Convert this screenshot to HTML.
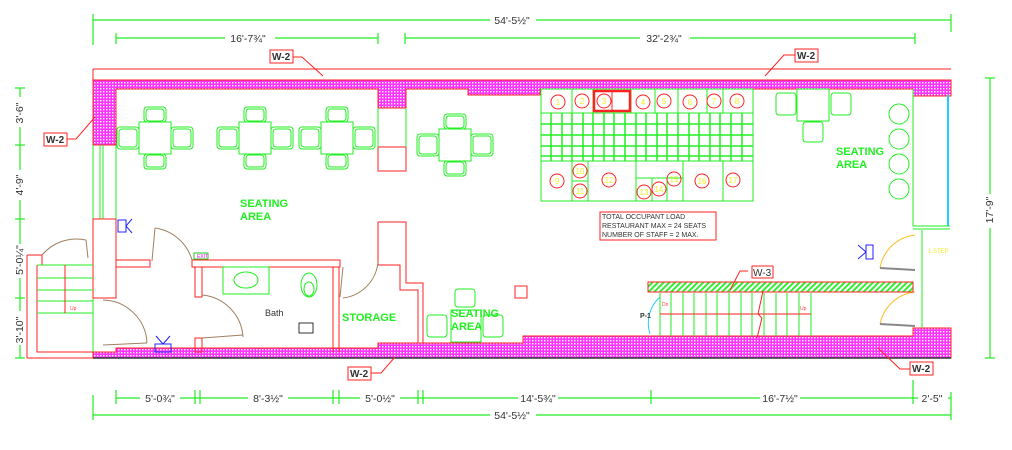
<!DOCTYPE html>
<html><head><meta charset="utf-8"><style>
html,body{margin:0;padding:0;background:#fff;width:1012px;height:450px;overflow:hidden}
svg{display:block}
text{font-family:"Liberation Sans",sans-serif}
</style></head><body>
<svg width="1012" height="450" viewBox="0 0 1012 450" xmlns="http://www.w3.org/2000/svg">
<defs>
<pattern id="h" width="3" height="3" patternUnits="userSpaceOnUse"><rect width="3" height="3" fill="#ff33ff"/><rect x="1" y="1" width="1.4" height="1.4" fill="#fff"/></pattern>
<pattern id="g" width="4" height="4" patternUnits="userSpaceOnUse" patternTransform="rotate(45)"><rect width="4" height="4" fill="#fff"/><rect width="2" height="4" fill="#33ee33"/></pattern>
<g id="tbl" fill="none" stroke="#22ee22" stroke-width="1">
<rect x="-16" y="-16" width="32" height="32"/>
<rect x="-11" y="-31" width="22" height="15" rx="3"/><rect x="-9" y="-29" width="18" height="12" rx="3"/>
<rect x="-11" y="16" width="22" height="15" rx="3"/><rect x="-9" y="17" width="18" height="12" rx="3"/>
<rect x="-38" y="-11" width="22" height="22" rx="3"/><rect x="-36" y="-9" width="18" height="18" rx="3"/>
<rect x="16" y="-11" width="22" height="22" rx="3"/><rect x="18" y="-9" width="18" height="18" rx="3"/>
</g>
</defs>

<!-- dimension lines -->
<g stroke="#22ee22" stroke-width="1.2" fill="none">
<line x1="93" y1="20" x2="951" y2="20"/><line x1="93" y1="14" x2="93" y2="45"/><line x1="951" y1="14" x2="951" y2="32"/>
<line x1="116" y1="38" x2="378" y2="38"/><line x1="405" y1="38" x2="915" y2="38"/>
<line x1="116" y1="33" x2="116" y2="44"/><line x1="378" y1="33" x2="378" y2="44"/><line x1="405" y1="33" x2="405" y2="44"/><line x1="915" y1="33" x2="915" y2="44"/>
<line x1="20" y1="88" x2="20" y2="358"/>
<line x1="15" y1="88" x2="25" y2="88"/><line x1="15" y1="145" x2="25" y2="145"/><line x1="15" y1="219" x2="25" y2="219"/><line x1="15" y1="298" x2="25" y2="298"/><line x1="15" y1="358" x2="25" y2="358"/>
<line x1="990" y1="78" x2="990" y2="358"/><line x1="985" y1="78" x2="995" y2="78"/><line x1="985" y1="358" x2="995" y2="358"/>
<line x1="116" y1="398" x2="951" y2="398"/><line x1="93" y1="415" x2="951" y2="415"/>
<line x1="93" y1="395" x2="93" y2="420"/><line x1="951" y1="392" x2="951" y2="420"/>
<line x1="116" y1="390" x2="116" y2="404"/><line x1="195" y1="390" x2="195" y2="404"/><line x1="200" y1="390" x2="200" y2="404"/><line x1="333" y1="390" x2="333" y2="404"/><line x1="339" y1="390" x2="339" y2="404"/><line x1="418" y1="390" x2="418" y2="404"/><line x1="423" y1="390" x2="423" y2="404"/><line x1="651" y1="390" x2="651" y2="404"/><line x1="913" y1="380" x2="913" y2="404"/>
</g>
<g font-size="10.5" fill="#333" text-anchor="middle">
<rect x="490" y="13" width="46" height="16" fill="#fff"/><text x="512" y="24">54'-5½"</text>
<rect x="225" y="31" width="50" height="16" fill="#fff"/><text x="248" y="42">16'-7¾"</text>
<rect x="640" y="31" width="50" height="16" fill="#fff"/><text x="664" y="42">32'-2¾"</text>
<rect x="140" y="390" width="40" height="16" fill="#fff"/><text x="160" y="402">5'-0¾"</text>
<rect x="248" y="390" width="40" height="16" fill="#fff"/><text x="268" y="402">8'-3½"</text>
<rect x="360" y="390" width="40" height="16" fill="#fff"/><text x="380" y="402">5'-0½"</text>
<rect x="518" y="390" width="40" height="16" fill="#fff"/><text x="538" y="402">14'-5¾"</text>
<rect x="760" y="390" width="40" height="16" fill="#fff"/><text x="780" y="402">16'-7½"</text>
<rect x="918" y="390" width="30" height="16" fill="#fff"/><text x="932" y="402">2'-5"</text>
<rect x="490" y="408" width="46" height="16" fill="#fff"/><text x="512" y="419">54'-5½"</text>
<g transform="rotate(-90)">
<rect x="-127" y="12" width="30" height="14" fill="#fff"/><text x="-113" y="23">3'-6"</text>
<rect x="-200" y="12" width="30" height="14" fill="#fff"/><text x="-185" y="23">4'-9"</text>
<rect x="-278" y="12" width="34" height="14" fill="#fff"/><text x="-260" y="23">5'-0¼"</text>
<rect x="-345" y="12" width="34" height="14" fill="#fff"/><text x="-330" y="23">3'-10"</text>
<rect x="-228" y="982" width="34" height="14" fill="#fff"/><text x="-210" y="993">17'-9"</text>
</g>
</g>

<!-- outer red line -->
<line x1="93" y1="69" x2="951" y2="69" stroke="#f22" stroke-width="1"/>
<line x1="93" y1="69" x2="93" y2="80" stroke="#f22"/>

<!-- hatched walls -->
<g fill="url(#h)" stroke="#f22" stroke-width="1">
<path d="M93 80 H951 V96 H913 V89 H540 V95 H468 V89 H406 V108 H378 V89 H116 V145 H93 Z"/>
<path d="M93 352 H116 V348 H378 V343 H523 V336 H913 V328 H951 V358 H93 Z"/>
</g>
<line x1="93" y1="358" x2="951" y2="358" stroke="#333" stroke-width="1.5"/>

<!-- left green wall -->
<g stroke="#22ee22" fill="none">
<line x1="93" y1="145" x2="93" y2="219"/><line x1="100" y1="145" x2="100" y2="219"/><line x1="103" y1="145" x2="103" y2="219"/><line x1="116" y1="145" x2="116" y2="219"/>
<line x1="93" y1="298" x2="93" y2="352"/>
</g>
<!-- red structural -->
<g stroke="#f22" fill="none" stroke-width="1">
<rect x="93" y="219" width="23" height="79"/>
<path d="M27 255 H42 V265 M27 255 V358 H93"/><path d="M37 265 V352 H93"/><path d="M37 265 H93"/>
<rect x="116" y="260" width="34" height="7"/>
<path d="M192 260 H340 V267 H192 Z"/>
<rect x="195" y="267" width="7" height="30"/><rect x="195" y="338" width="7" height="14"/>
<line x1="333" y1="267" x2="333" y2="352"/><line x1="339" y1="267" x2="339" y2="352"/>
<path d="M378 222 H406 V283 H423 V343"/><path d="M378 222 V265 H400 V290 H418 V343"/>
<rect x="378" y="147" width="28" height="24"/>
<rect x="515" y="286" width="12" height="12"/>
</g>
<g stroke="#22ee22" fill="none">
<line x1="378" y1="108" x2="378" y2="147"/><line x1="406" y1="108" x2="406" y2="147"/>
<line x1="37" y1="278" x2="93" y2="278"/><line x1="37" y1="290" x2="93" y2="290"/><line x1="37" y1="301" x2="93" y2="301"/><line x1="37" y1="313" x2="93" y2="313"/>
<line x1="37" y1="265" x2="93" y2="265"/>
<rect x="223" y="267" width="46" height="27"/><ellipse cx="246" cy="280" rx="12" ry="8"/>
<ellipse cx="309" cy="285" rx="8" ry="12"/><ellipse cx="309" cy="289" rx="5" ry="7"/>
<rect x="194" y="253" width="14" height="6" stroke="#2c2"/>
</g>
<line x1="65" y1="265" x2="65" y2="313" stroke="#f22"/><text x="70" y="310" font-size="5" fill="#f44">Up</text>
<text x="197" y="258" font-size="5" fill="#f0f">EXIT</text>
<text x="265" y="316" font-size="9" fill="#333">Bath</text>
<rect x="299" y="323" width="14" height="10" fill="none" stroke="#333"/>

<!-- door arcs -->
<g stroke="#a08060" fill="none" stroke-width="1">
<path d="M42 255 A45 45 0 0 1 86 240"/><line x1="86" y1="240" x2="88" y2="258"/>
<path d="M103 300 A45 45 0 0 1 147 343"/><line x1="103" y1="345" x2="147" y2="343"/>
<path d="M155 228 A45 45 0 0 1 192 260"/><line x1="155" y1="228" x2="152" y2="261"/>
<path d="M202 295 A45 45 0 0 1 243 337"/><line x1="202" y1="338" x2="243" y2="335"/>
<path d="M378 262 A40 40 0 0 1 343 298"/><line x1="340" y1="297" x2="343" y2="267"/>
</g>
<g stroke="#fb2" fill="none"><path d="M880 268 A40 40 0 0 1 915 235"/><path d="M880 324 A40 40 0 0 1 915 292"/></g>
<g stroke="#888" stroke-width="2"><line x1="880" y1="268" x2="915" y2="270"/><line x1="880" y1="324" x2="915" y2="326"/></g>
<path d="M650 334 A35 35 0 0 1 660 297" stroke="#2cf" fill="none"/>
<text x="640" y="318" font-size="7" fill="#333" font-weight="bold">P-1</text>

<!-- blue symbols -->
<g stroke="#22f" fill="none"><rect x="118" y="220" width="8" height="12"/><line x1="126" y1="226" x2="132" y2="219"/><line x1="126" y1="226" x2="132" y2="233"/>
<rect x="155" y="344" width="16" height="8"/><line x1="163" y1="344" x2="156" y2="336"/><line x1="163" y1="344" x2="170" y2="336"/>
<rect x="866" y="245" width="7" height="14"/><line x1="866" y1="252" x2="858" y2="245"/><line x1="866" y1="252" x2="858" y2="259"/></g>

<!-- tables -->
<use href="#tbl" x="155" y="138"/><use href="#tbl" x="255" y="138"/><use href="#tbl" x="337" y="138"/><use href="#tbl" x="455" y="145"/>
<g fill="none" stroke="#22ee22">
<rect x="451" y="310" width="30" height="32"/><rect x="455" y="289" width="20" height="18" rx="3"/><rect x="427" y="315" width="20" height="22" rx="3"/><rect x="483" y="315" width="20" height="22" rx="3"/>
<rect x="797" y="89" width="32" height="32"/><rect x="776" y="93" width="20" height="22" rx="3"/><rect x="831" y="93" width="20" height="22" rx="3"/><rect x="803" y="122" width="20" height="20" rx="3"/>
<circle cx="899" cy="114" r="10"/><circle cx="899" cy="139" r="10"/><circle cx="899" cy="164" r="10"/><circle cx="899" cy="189" r="10"/>
<line x1="913" y1="89" x2="913" y2="226"/><line x1="913" y1="226" x2="950" y2="226"/><line x1="913" y1="229" x2="950" y2="229"/>
<line x1="922" y1="230" x2="922" y2="328"/>
</g>
<line x1="948" y1="95" x2="948" y2="226" stroke="#2cf" stroke-width="2"/>
<text x="928" y="253" font-size="6" fill="#ee2">1 STEP</text>

<!-- kitchen -->
<g fill="none" stroke="#22ee22" stroke-width="1">
<rect x="541" y="89" width="212" height="112"/>
<line x1="541" y1="113" x2="753" y2="113"/><line x1="541" y1="161" x2="753" y2="161"/>
<line x1="572" y1="89" x2="572" y2="113"/><line x1="593" y1="89" x2="593" y2="113"/><line x1="631" y1="89" x2="631" y2="113"/><line x1="655" y1="89" x2="655" y2="113"/><line x1="678" y1="89" x2="678" y2="113"/><line x1="707" y1="89" x2="707" y2="113"/><line x1="723" y1="89" x2="723" y2="113"/>
<line x1="572" y1="161" x2="572" y2="201"/><line x1="588" y1="161" x2="588" y2="201"/><line x1="636" y1="161" x2="636" y2="201"/><line x1="652" y1="178" x2="652" y2="201"/><line x1="667" y1="178" x2="667" y2="201"/><line x1="683" y1="161" x2="683" y2="201"/><line x1="723" y1="161" x2="723" y2="201"/>
<line x1="572" y1="181" x2="588" y2="181"/><line x1="636" y1="178" x2="683" y2="178"/>
</g>
<g stroke="#22ee22" stroke-width="1.5">
<line x1="541" y1="124" x2="753" y2="124"/><line x1="541" y1="135" x2="753" y2="135"/><line x1="541" y1="146" x2="753" y2="146"/><line x1="541" y1="156" x2="753" y2="156"/>
<line x1="551" y1="113" x2="551" y2="161"/><line x1="562" y1="113" x2="562" y2="161"/><line x1="572" y1="113" x2="572" y2="161"/><line x1="583" y1="113" x2="583" y2="161"/><line x1="593" y1="113" x2="593" y2="161"/><line x1="604" y1="113" x2="604" y2="161"/><line x1="614" y1="113" x2="614" y2="161"/><line x1="625" y1="113" x2="625" y2="161"/><line x1="636" y1="113" x2="636" y2="161"/><line x1="646" y1="113" x2="646" y2="161"/><line x1="657" y1="113" x2="657" y2="161"/><line x1="667" y1="113" x2="667" y2="161"/><line x1="678" y1="113" x2="678" y2="161"/><line x1="689" y1="113" x2="689" y2="161"/><line x1="699" y1="113" x2="699" y2="161"/><line x1="710" y1="113" x2="710" y2="161"/><line x1="720" y1="113" x2="720" y2="161"/><line x1="731" y1="113" x2="731" y2="161"/><line x1="742" y1="113" x2="742" y2="161"/>
</g>
<rect x="594" y="91" width="36" height="20" fill="none" stroke="#f22" stroke-width="2.5"/><line x1="612" y1="91" x2="612" y2="111" stroke="#f22"/>
<g fill="none" stroke="#f22"><circle cx="558" cy="102" r="7"/><circle cx="582" cy="101" r="7"/><circle cx="604" cy="101" r="7"/><circle cx="643" cy="102" r="7"/><circle cx="664" cy="101" r="7"/><circle cx="690" cy="102" r="7"/><circle cx="714" cy="101" r="7"/><circle cx="737" cy="101" r="7"/>
<circle cx="557" cy="181" r="7"/><circle cx="580" cy="171" r="7"/><circle cx="580" cy="191" r="7"/><circle cx="609" cy="180" r="7"/><circle cx="644" cy="192" r="7"/><circle cx="659" cy="189" r="7"/><circle cx="674" cy="179" r="7"/><circle cx="702" cy="181" r="7"/><circle cx="733" cy="180" r="7"/></g>
<g font-size="8" fill="#ee2" text-anchor="middle">
<text x="558" y="105">1</text><text x="582" y="104">2</text><text x="604" y="104">3</text><text x="643" y="105">4</text><text x="664" y="104">5</text><text x="690" y="105">6</text><text x="714" y="104">7</text><text x="737" y="104">8</text>
<text x="557" y="184">9</text><text x="580" y="174">10</text><text x="580" y="194">11</text><text x="609" y="183">12</text><text x="644" y="195">13</text><text x="659" y="192">14</text><text x="674" y="182">15</text><text x="702" y="184">16</text><text x="733" y="183">17</text>
</g>

<rect x="600" y="212" width="116" height="28" fill="#fff" stroke="#f22"/>
<g font-size="7" fill="#333"><text x="602" y="219">TOTAL OCCUPANT LOAD</text><text x="602" y="228">RESTAURANT MAX = 24 SEATS</text><text x="602" y="237">NUMBER OF STAFF = 2 MAX.</text></g>

<rect x="648" y="282" width="265" height="10" fill="url(#g)" stroke="#f22"/>
<g stroke="#22ee22"><line x1="660" y1="293" x2="660" y2="336"/><line x1="671" y1="293" x2="671" y2="336"/><line x1="683" y1="293" x2="683" y2="336"/><line x1="694" y1="293" x2="694" y2="336"/><line x1="706" y1="293" x2="706" y2="336"/><line x1="717" y1="293" x2="717" y2="336"/><line x1="729" y1="293" x2="729" y2="336"/><line x1="741" y1="293" x2="741" y2="336"/><line x1="752" y1="293" x2="752" y2="336"/><line x1="764" y1="293" x2="764" y2="336"/><line x1="776" y1="293" x2="776" y2="336"/><line x1="787" y1="293" x2="787" y2="336"/><line x1="799" y1="293" x2="799" y2="336"/><line x1="811" y1="293" x2="811" y2="336"/></g>
<line x1="660" y1="314" x2="811" y2="314" stroke="#f22"/><path d="M763 291 L758 314 L762 318 L757 338" stroke="#f22" fill="none"/>
<text x="662" y="306" font-size="5" fill="#f44">Dn</text><text x="800" y="310" font-size="5" fill="#f44">Up</text>

<g font-size="11" font-weight="bold" fill="#22ee22">
<text x="240" y="207">SEATING</text><text x="240" y="220">AREA</text>
<text x="836" y="155">SEATING</text><text x="836" y="168">AREA</text>
<text x="451" y="317">SEATING</text><text x="451" y="330">AREA</text>
<text x="342" y="321">STORAGE</text>
</g>

<g stroke="#f22" fill="none">
<path d="M293 57 H302 L323 76"/><path d="M67 139 H76 L95 117"/><path d="M795 55 H784 L765 76"/><path d="M371 373 H381 L395 357"/><path d="M910 369 H900 L878 348"/><path d="M748 271 H740 L730 290"/>
</g>
<g font-size="10" font-weight="bold" fill="#333">
<rect x="270" y="50" width="23" height="13" fill="#fff" stroke="#f22"/><text x="272" y="60">W-2</text>
<rect x="44" y="133" width="23" height="13" fill="#fff" stroke="#f22"/><text x="46" y="143">W-2</text>
<rect x="795" y="49" width="23" height="13" fill="#fff" stroke="#f22"/><text x="797" y="59">W-2</text>
<rect x="348" y="367" width="23" height="13" fill="#fff" stroke="#f22"/><text x="350" y="377">W-2</text>
<rect x="910" y="362" width="23" height="13" fill="#fff" stroke="#f22"/><text x="912" y="372">W-2</text>
<rect x="752" y="266" width="21" height="12" fill="#fff" stroke="#f22"/><text x="753" y="276" font-weight="normal">W-3</text>
</g>
</svg>
</body></html>
